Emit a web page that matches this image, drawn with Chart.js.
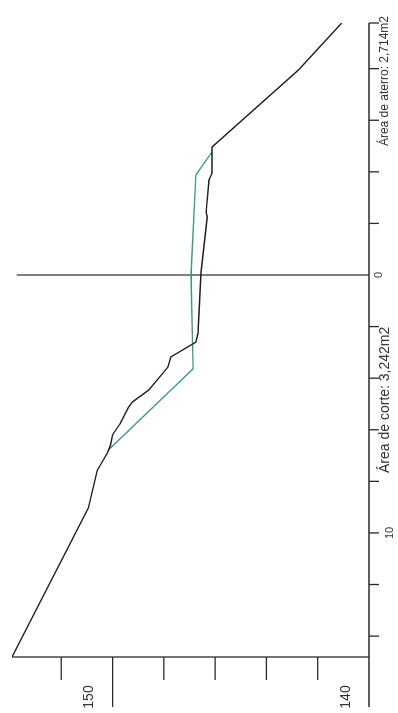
<!DOCTYPE html>
<html>
<head>
<meta charset="utf-8">
<script src="https://cdn.jsdelivr.net/npm/chart.js@4.4.1/dist/chart.umd.min.js"></script>
<style>
    html, body { margin: 0; padding: 0; background: #fff; width: 398px; height: 713px; overflow: hidden; }
    /* the section is drawn landscape, then turned a quarter to the left like the scan */
    #wrap { position: absolute; left: 0; top: 0; width: 713px; height: 398px;
            transform-origin: 0 0; transform: translate(0, 713px) rotate(-90deg); }
</style>
</head>
<body>
<div id="wrap"><canvas id="section" width="713" height="398"></canvas></div>
<script>
// --- Data read off the cross section ---
// terrain (black), distance from centre line (m) and elevation (m)
const groundDist = [-14.81, -9.03, -7.56, -7.36, -6.90, -6.59, -6.20, -5.74, -5.12, -4.92, -4.46, -3.57, -3.18, -2.60, -2.25, 0.10, 2.25, 2.44, 3.68, 3.95, 4.96, 7.95, 9.77];
const groundElev = [153.92, 150.94, 150.59, 150.47, 150.20, 150.08, 150.00, 149.69, 149.37, 149.22, 148.59, 147.84, 147.73, 146.75, 146.67, 146.55, 146.31, 146.35, 146.24, 146.12, 146.12, 142.75, 141.06];
// design template (green)
const designDist = [-6.78, -3.64, 0.00, 3.88, 4.77];
const designElev = [150.16, 146.86, 146.94, 146.75, 146.12];
// centre line
const centerElev = [140, 153.73];

const elevTicks = [140, 142, 144, 146, 148, 150, 152];
const elevLabels = [140, 150];
const distTicks = [-14, -12, -10, -8, -6, -4, -2, 2, 4, 6, 8];
const distLabels = [-10, 0];
const areaTexts = ['Área de corte: 3,242m2', 'Área de aterro: 2,714m2'];

const DIST_MIN = groundDist[0];
const DIST_MAX = groundDist[groundDist.length - 1];
const ELEV_MIN = 140;
const ELEV_MAX = groundElev[0];

const toPoints = (xs, ys) => xs.map((v, i) => ({ x: v, y: ys[i] }));

// --- Axes, ticks and texts drawn on the library's scales ---
const sectionAxes = {
    id: 'sectionAxes',
    afterDatasetsDraw(chart) {
        const { ctx, scales: { x, y } } = chart;
        const x0 = x.getPixelForValue(DIST_MIN);
        const x1 = x.getPixelForValue(DIST_MAX);
        const yb = y.getPixelForValue(ELEV_MIN);
        const yt = y.getPixelForValue(ELEV_MAX);

        const line = (ax, ay, bx, by) => {
            ctx.beginPath();
            ctx.moveTo(ax, ay);
            ctx.lineTo(bx, by);
            ctx.stroke();
        };

        ctx.save();
        ctx.strokeStyle = '#2a2a2a';
        ctx.lineWidth = 1.3;

        line(x0, yb, x1, yb);          // distance axis
        line(x0, yb, x0, yt);          // elevation axis
        line(x1, yb, x1, yb + 10);     // end tick

        distTicks.forEach(v => {
            const px = x.getPixelForValue(v);
            line(px, yb, px, yb + 10);
        });

        elevTicks.forEach(v => {
            const py = y.getPixelForValue(v);
            const len = elevLabels.includes(v) ? 50 : 23;
            line(x0, py, x0 - len, py);
        });

        ctx.fillStyle = '#333';
        ctx.textAlign = 'center';
        ctx.textBaseline = 'middle';

        ctx.font = '14px "Liberation Sans", Arial, sans-serif';
        elevLabels.forEach(v => {
            ctx.fillText(String(v), x0 - 40, y.getPixelForValue(v) - 23);
        });

        ctx.font = '11px "Liberation Sans", Arial, sans-serif';
        distLabels.forEach(v => {
            const off = distTicks.includes(v) ? 21 : 10;
            ctx.fillText(String(Math.abs(v)), x.getPixelForValue(v), yb + off);
        });

        ctx.font = '14px "Liberation Sans", Arial, sans-serif';
        ctx.fillText(areaTexts[0], x.getPixelForValue(-4.84), yb + 16);
        ctx.font = '12px "Liberation Sans", Arial, sans-serif';
        ctx.fillText(areaTexts[1], x.getPixelForValue(7.52), yb + 16);
        ctx.restore();
    }
};

const ctx = document.getElementById('section').getContext('2d');

new Chart(ctx, {
    type: 'scatter',
    data: {
        datasets: [
            {
                label: 'Terreno',
                data: toPoints(groundDist, groundElev),
                showLine: true,
                borderColor: '#1e1e1e',
                borderWidth: 1.4,
                pointRadius: 0,
                tension: 0
            },
            {
                label: 'Projeto',
                data: toPoints(designDist, designElev),
                showLine: true,
                borderColor: '#3d9a82',
                borderWidth: 1.3,
                pointRadius: 0,
                tension: 0
            },
            {
                label: 'Eixo',
                data: toPoints([0, 0], centerElev),
                showLine: true,
                borderColor: '#2a2a2a',
                borderWidth: 1.2,
                pointRadius: 0
            }
        ]
    },
    options: {
        responsive: false,
        animation: false,
        events: [],
        layout: { padding: { left: 56, right: 23, top: 12, bottom: 29 } },
        plugins: {
            legend: { display: false },
            tooltip: { enabled: false }
        },
        scales: {
            x: { type: 'linear', min: DIST_MIN, max: DIST_MAX, display: false },
            y: { type: 'linear', min: ELEV_MIN, max: ELEV_MAX, display: false }
        }
    },
    plugins: [sectionAxes]
});
</script>
</body>
</html>
